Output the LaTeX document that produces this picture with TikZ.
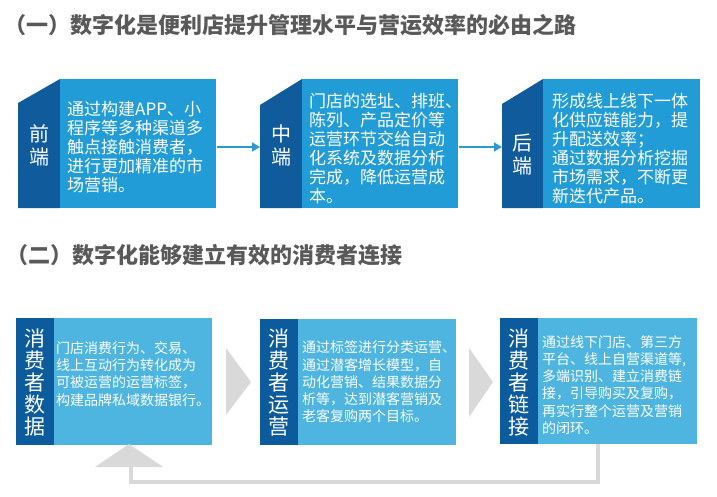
\documentclass[tikz,border=0pt]{standalone}
\usepackage{fontspec}
\setmainfont{Noto Sans CJK SC}
\usetikzlibrary{arrows.meta}
\definecolor{topdark}{HTML}{0F5B9B}
\definecolor{toplight}{HTML}{229CD6}
\definecolor{botdark}{HTML}{0C5B9D}
\definecolor{botlight}{HTML}{4DB5E0}
\definecolor{titlegray}{HTML}{595959}
\definecolor{arrowgray}{HTML}{D9D9D9}
\definecolor{lineblue}{HTML}{2A9AD5}
\begin{document}
\begin{tikzpicture}[x=1pt,y=-1pt,
  titletext/.style={anchor=west,inner sep=0pt,text=titlegray,font=\fontsize{22}{24}\selectfont\bfseries},
  toplightbox/.style={anchor=north west,fill=toplight,inner sep=0pt,draw=none},
  botlightbox/.style={anchor=north west,fill=botlight,inner sep=0pt,draw=none},
  toptext/.style={anchor=west,inner sep=0pt,text=white,align=left,font=\fontsize{17}{19}\selectfont},
  bottext/.style={anchor=west,inner sep=0pt,text=white,align=left,font=\fontsize{14}{17.2}\selectfont},
  topstrip/.style={inner sep=0pt,text=white,align=center,font=\fontsize{20}{23}\selectfont},
  botstrip/.style={inner sep=0pt,text=white,align=center,font=\fontsize{21}{22}\selectfont},
  bluearrow/.style={draw=lineblue,line width=1.5pt,-{Triangle[length=8pt,width=9pt]}},
  chevron/.style={fill=arrowgray,draw=none},
  loopline/.style={draw=arrowgray,line width=4pt}
]
\useasboundingbox (0,0) rectangle (717,496);
\fill[white] (0,0) rectangle (717,496);

% titles
\node[titletext] (t1) at (4,25) {（一）数字化是便利店提升管理水平与营运效率的必由之路};
\node[titletext] (t2) at (6,255) {（二）数字化能够建立有效的消费者连接};

% ---------- top row ----------
\fill[topdark] (18,103) -- (60,79) -- (60,208) -- (18,208) -- cycle;
\node[toplightbox,minimum width=156pt,minimum height=129pt] (b1) at (60,79) {};
\node[topstrip] (s1) at (39,145.5) {前\\端};
\node[toptext] (x1) at (67,147.5) {通过构建APP、小\\程序等多种渠道多\\触点接触消费者，\\进行更加精准的市\\场营销。};

\fill[topdark] (260,105) -- (302,79) -- (302,208) -- (260,208) -- cycle;
\coordinate (s2w) at (260,147);
\node[toplightbox,minimum width=156pt,minimum height=129pt] (b2) at (302,79) {};
\node[topstrip] (s2) at (281,145.5) {中\\端};
\node[toptext] (x2) at (309,148.7) {门店的选址、排班、\\陈列、产品定价等\\运营环节交给自动\\化系统及数据分析\\完成，降低运营成\\本。};

\fill[topdark] (502,104) -- (543,79) -- (543,208) -- (502,208) -- cycle;
\coordinate (s3w) at (502,147);
\node[toplightbox,minimum width=157pt,minimum height=129pt] (b3) at (543,79) {};
\node[topstrip] (s3) at (522,154) {后\\端};
\node[toptext] (x3) at (552,148.7) {形成线上线下一体\\化供应链能力，提\\升配送效率；\\通过数据分析挖掘\\市场需求，不断更\\新迭代产品。};

\coordinate (b1e) at (217,147);
\coordinate (b2e) at (459,147);
\draw[bluearrow] (b1e) -- (s2w);
\draw[bluearrow] (b2e) -- (s3w);

% ---------- bottom row ----------
\node[botlightbox,fill=botdark,minimum width=38pt,minimum height=127pt] (d1) at (16,318) {};
\node[botlightbox,minimum width=158pt,minimum height=127pt] (c1) at (54,318) {};
\node[botstrip] (u1) at (35,382.5) {消\\费\\者\\数\\据};
\node[bottext] (y1) at (56,374) {门店消费行为、交易、\\线上互动行为转化成为\\可被运营的运营标签，\\构建品牌私域数据银行。};

\node[botlightbox,fill=botdark,minimum width=38pt,minimum height=126pt] (d2) at (260,319) {};
\node[botlightbox,minimum width=158pt,minimum height=126pt] (c2) at (298,319) {};
\node[botstrip] (u2) at (279,382.5) {消\\费\\者\\运\\营};
\node[bottext] (y2) at (302,382) {通过标签进行分类运营、\\通过潜客增长模型，自\\动化营销、结果数据分\\析等，达到潜客营销及\\老客复购两个目标。};

\node[botlightbox,fill=botdark,minimum width=38pt,minimum height=126pt] (d3) at (500,318) {};
\node[botlightbox,minimum width=159pt,minimum height=126pt] (c3) at (538,318) {};
\node[botstrip] (u3) at (519,382.5) {消\\费\\者\\链\\接};
\node[bottext] (y3) at (542,385) {通过线下门店、第三方\\平台、线上自营渠道等,\\多端识别、建立消费链\\接，引导购买及复购，\\再实行整个运营及营销\\的闭环。};

% chevrons
\fill[chevron] (226,348) -- (251,382) -- (226,415) -- cycle;
\fill[chevron] (469,348) -- (493,382) -- (469,417) -- cycle;

% feedback loop
\coordinate (lp1) at (598,444);
\coordinate (lp2) at (598,482);
\coordinate (lp3) at (131,482);
\coordinate (lp4) at (131,466);
\draw[loopline] (lp1) -- (lp2) -- (lp3) -- (lp4);
\fill[chevron] (95,467) -- (129,444) -- (163,467) -- cycle;
\end{tikzpicture}
\end{document}
